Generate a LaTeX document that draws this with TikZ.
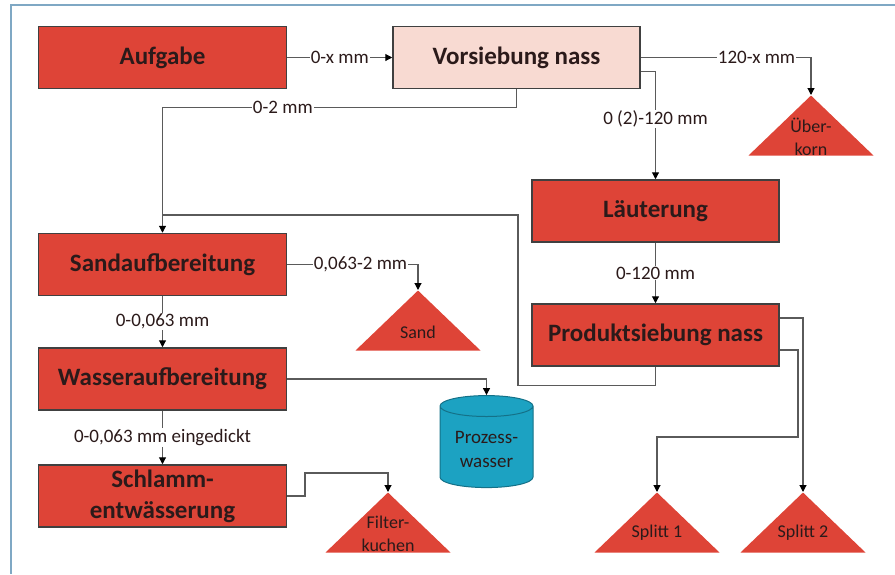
\documentclass[tikz,border=0pt]{standalone}
\usepackage{fontspec}
\setmainfont{Carlito}
\usetikzlibrary{arrows.meta, shapes.geometric, calc}

\definecolor{boxred}{HTML}{DE4437}
\definecolor{boxpink}{HTML}{F8DAD2}
\definecolor{tankblue}{HTML}{1CA2C2}
\definecolor{framebl}{HTML}{7FA8C4}
\definecolor{linegray}{HTML}{5A5A5A}
\definecolor{textdark}{HTML}{2B1A1A}

\tikzset{
	stage/.style = {rectangle, draw = darkgray, line width = 1.5pt, fill = boxred,
		minimum width = 248pt, minimum height = 62pt, inner sep = 2pt, align = center,
		text = textdark, font = \fontsize{25}{31}\selectfont\bfseries},
	output/.style = {isosceles triangle, shape border rotate = 90, isosceles triangle stretches,
		minimum width = 125pt, minimum height = 60pt, inner sep = 0pt, fill = boxred, anchor = apex},
	outtext/.style = {align = center, inner sep = 0pt, text = textdark,
		font = \fontsize{18}{23}\selectfont},
	tank/.style = {cylinder, shape border rotate = 90, aspect = 0.3, draw = tankblue!70!black,
		line width = 1pt, cylinder uses custom fill, cylinder body fill = tankblue,
		cylinder end fill = tankblue, minimum width = 93pt, minimum height = 92pt,
		align = center, text = textdark, font = \fontsize{19}{24}\selectfont},
	plain/.style = {draw = linegray, line width = 1.1pt},
	flow/.style = {plain, -{Triangle[length = 7pt, width = 7pt, color = black]}},
	size/.style = {fill = white, inner sep = 1pt, text = textdark, font = \fontsize{19}{22}\selectfont}
}

\begin{document}
\begin{tikzpicture}[x = 1pt, y = -1pt]
	\useasboundingbox (0,0) rectangle (895,574);
	\draw [framebl, line width = 2pt] (895,5) -- (11,5) -- (11,574);
	
	% stages
	\node [stage] (aufgabe) at (162.5,57.5) {Aufgabe};
	\node [stage, fill = boxpink, minimum width = 247pt] (vorsieb) at (516.5,57.5) {Vorsiebung nass};
	\node [stage, minimum width = 247pt] (laeut) at (655.5,211) {Läuterung};
	\node [stage, minimum width = 247pt] (prod) at (655.5,335) {Produktsiebung nass};
	\node [stage] (sandauf) at (162.5,264.5) {Sandaufbereitung};
	\node [stage] (wasser) at (162.5,379) {Wasseraufbereitung};
	\node [stage] (schlamm) at (162.5,496) {Schlamm-\\entwässerung};
	
	% products
	\node [output] (ueberkorn) at (811,95) {};
	\node [output] (sand) at (418,290) {};
	\node [output] (filter) at (388,492) {};
	\node [output] (splitt1) at (657,492) {};
	\node [output] (splitt2) at (803,492) {};
	\node [outtext] (ueberkorn text) at ([yshift = -42pt]ueberkorn.apex) {Über-\\korn};
	\node [outtext] (sand text) at ([yshift = -42pt]sand.apex) {Sand};
	\node [outtext] (filter text) at ([yshift = -42pt]filter.apex) {Filter-\\kuchen};
	\node [outtext] (splitt1 text) at ([yshift = -41pt]splitt1.apex) {Splitt 1};
	\node [outtext] (splitt2 text) at ([yshift = -41pt]splitt2.apex) {Splitt 2};
	
	\node [tank] (prozess) at (486.5,449) {Prozess-\\wasser};
	
	% flows
	\coordinate (splitt turn) at (798,437);
	\coordinate (back up) at (518,215);
	\coordinate (sand join) at (163,215);
	\coordinate (filter turn) at (305,473);
	
	\draw [flow] (aufgabe) -- node [size] {0-x mm} (vorsieb);
	\draw [flow] (vorsieb.south) -- ++(0,18) -| node [size, pos = 0.33] {0-2 mm} (sandauf.north);
	\draw [flow] (vorsieb.east) -| node [size, pos = 0.34] {120-x mm} (ueberkorn.apex);
	\draw [flow] ([yshift = -14pt]vorsieb.east) -| node [size, pos = 0.72] {0 (2)-120 mm} (laeut.north);
	\draw [flow] (laeut) -- node [size] {0-120 mm} (prod);
	\draw [flow] ([yshift = 17pt]prod.east) -| (splitt2.apex);
	\draw [flow] ([yshift = -15pt]prod.east) -| (splitt turn) -| (splitt1.apex);
	\draw [plain] (prod.south) -- ++(0,19) -| (back up) -- (sand join);
	\draw [flow] (sandauf) -- node [size] {0-0,063 mm} (wasser);
	\draw [flow] (sandauf.east) -| node [size, pos = 0.28] {0,063-2 mm} (sand.apex);
	\draw [flow] (wasser) -- node [size] {0-0,063 mm eingedickt} (schlamm);
	\draw [flow] (wasser.east) -| (prozess.north);
	\draw [flow] (schlamm.east) -| (filter turn) -| (filter.apex);
\end{tikzpicture}
\end{document}
